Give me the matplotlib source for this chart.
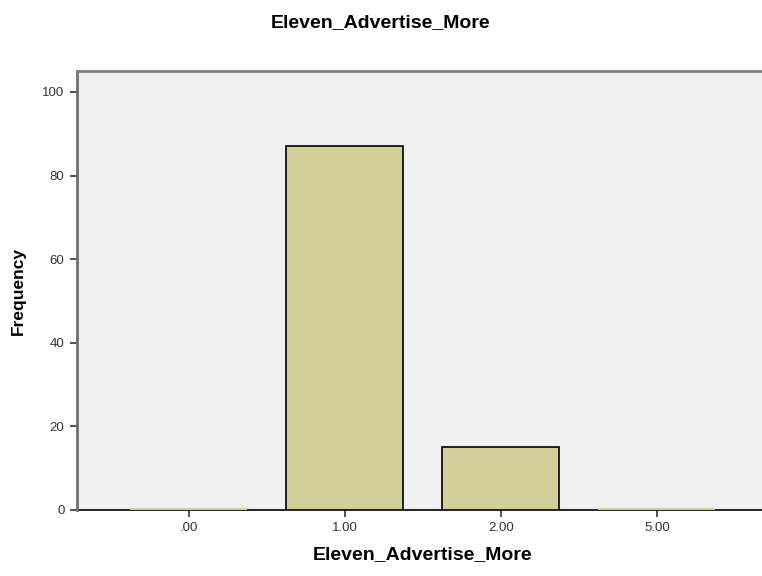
import numpy as np
import matplotlib
matplotlib.use("Agg")
import matplotlib.pyplot as plt

# data
categories = [".00", "1.00", "2.00", "5.00"]
frequency = [0.5, 87, 15, 0.5]
y_ticks = [0, 20, 40, 60, 80, 100]

plt.rcParams['font.family'] = ['Liberation Sans', 'DejaVu Sans']

fig = plt.figure(figsize=(7.62, 5.76), dpi=100)
ax = fig.add_axes([0.101, 0.1146, 0.908, 0.7621])
ax.set_facecolor('#f0f0f0')

x = np.arange(len(categories))
# near-empty bars show up without an outline in the original
edges = ['black' if f >= 1 else 'none' for f in frequency]
ax.bar(x, frequency, width=0.75, color='#d3cf98', edgecolor=edges, linewidth=1.2, zorder=3)

ax.set_xlim(-0.718, 3.718)
ax.set_ylim(0, 105)
ax.set_xticks(x)
ax.set_xticklabels(categories, fontsize=9.5, color='#333333')
ax.set_yticks(y_ticks)
ax.set_yticklabels([str(t) for t in y_ticks], fontsize=9.5, color='#333333')
ax.tick_params(direction='out', length=5, width=1.2, color='#333333', pad=4)

ax.spines['right'].set_visible(False)
ax.spines['left'].set_color('#707070')
ax.spines['left'].set_linewidth(2)
ax.spines['top'].set_color('#808080')
ax.spines['top'].set_linewidth(2)
ax.spines['bottom'].set_color('black')
ax.spines['bottom'].set_linewidth(1.2)
ax.spines['bottom'].set_zorder(2)

ax.set_xlabel('Eleven_Advertise_More', fontsize=14, fontweight='bold', labelpad=8)
ax.set_ylabel('Frequency', fontsize=12.5, fontweight='bold', labelpad=12)
fig.text(0.5, 0.975, 'Eleven_Advertise_More', ha='center', va='top', fontsize=14, fontweight='bold')

fig.savefig('out.png', dpi=100)
